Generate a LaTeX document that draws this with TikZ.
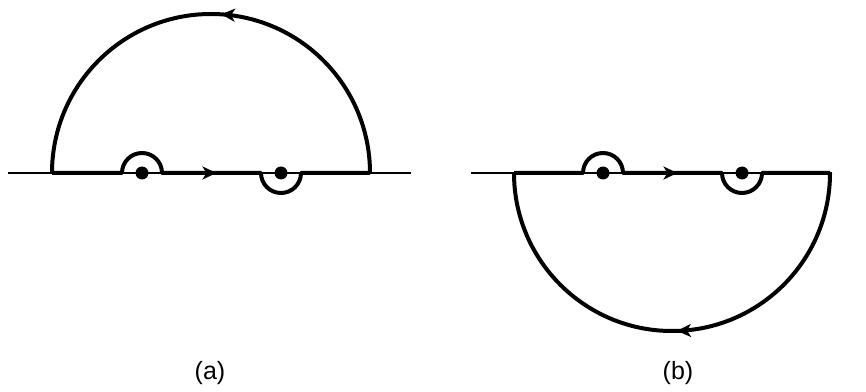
\documentclass[tikz,border=0pt]{standalone}
\usepackage{fontspec}
\setmainfont{Liberation Sans}
\usetikzlibrary{arrows.meta,decorations.markings}
\begin{document}
\begin{tikzpicture}[x=1pt,y=1pt,
  axisline/.style={line width=1.6pt},
  contour/.style={line width=4pt,line join=round},
  pole/.style={fill=black},
  tipmark/.style={postaction={decorate,decoration={markings,mark=at position #1 with {\arrow{Stealth[length=14pt,width=13pt,inset=4pt]}}}}},
  lbl/.style={font=\fontsize{25}{28}\selectfont}]
\useasboundingbox (0,0) rectangle (866,391);
% (a)
\draw[axisline] (8,218) -- (411,218);
\draw[contour] (52,218) -- (122,218) arc[start angle=180,end angle=0,radius=20]
  -- (261,218) arc[start angle=180,end angle=360,radius=20] -- (370,218);
\draw[contour,tipmark=0.48] (370,218) arc[start angle=0,end angle=180,radius=159];
\draw[contour,tipmark=0.55] (162,218) -- (261,218);
\fill[pole] (142,218) circle[radius=6.5];
\fill[pole] (281,218) circle[radius=6.5];
\node[lbl] (la) at (210,18) {(a)};
% (b)
\draw[axisline] (471,218) -- (832,218);
\draw[contour] (514,218) -- (583,218) arc[start angle=180,end angle=0,radius=20]
  -- (722,218) arc[start angle=180,end angle=360,radius=20] -- (830,218);
\draw[contour,tipmark=0.49] (830,218) arc[start angle=0,end angle=-180,radius=158];
\draw[contour,tipmark=0.55] (623,218) -- (722,218);
\fill[pole] (603,218) circle[radius=6.5];
\fill[pole] (742,218) circle[radius=6.5];
\node[lbl] (lb) at (678,18) {(b)};
\end{tikzpicture}
\end{document}
